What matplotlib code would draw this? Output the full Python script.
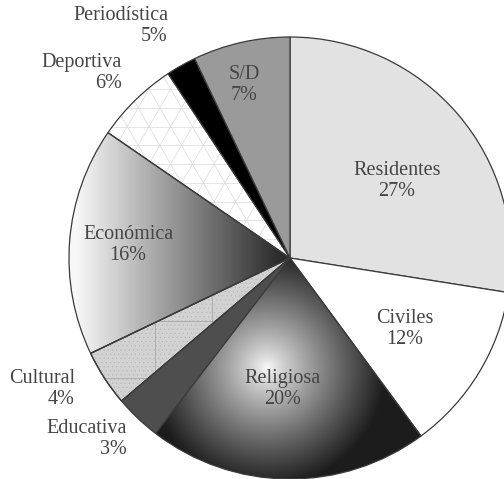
import numpy as np
import matplotlib
matplotlib.use("Agg")
import matplotlib.pyplot as plt
from matplotlib.collections import LineCollection
from matplotlib.patches import Wedge

# slice sizes as drawn in the picture (the printed labels are below)
categorias = ["Residentes", "Civiles", "Religiosa", "Educativa", "Cultural",
              "Económica", "Deportiva", "Periodística", "S/D"]
valores = [27.5, 12.4, 20.5, 3.4, 4.1, 16.7, 6.1, 2.2, 7.1]
etiquetas = ["27%", "12%", "20%", "3%", "4%", "16%", "6%", "5%", "7%"]
colores = ["#e2e2e2", "#ffffff", "none", "#4e4e4e", "#d2d2d2",
           "none", "none", "#000000", "#9a9a9a"]

R_PX = 221.0
CX, CY = 290.0, 258.0
W, H = 504, 479

def px(x, y):
    # pixel position in the picture -> data coords (centre 0,0, radius 1)
    return (x - CX) / R_PX, (CY - y) / R_PX

fig = plt.figure(figsize=(5.04, 4.79), dpi=100)
ax = fig.add_axes([0, 0, 1, 1])

wedges, _ = ax.pie(valores, colors=colores, startangle=90, counterclock=False,
                   radius=1.0, center=(0, 0),
                   wedgeprops=dict(edgecolor="#3a3a3a", linewidth=0.9))
for w in wedges:
    w.set_zorder(3)

# Religiosa: radial gradient
rel = wedges[2]
gx, gy = np.meshgrid(np.linspace(-1, 1, 400), np.linspace(-1, 1, 400))
cx, cy = px(267, 368)
d = np.hypot(gx - cx, gy - cy)
g = 0.98 - 0.87 * np.clip(d / 0.54, 0, 1) ** 0.85
img = ax.imshow(g, cmap="gray", vmin=0, vmax=1, extent=(-1, 1, -1, 1),
                origin="lower", zorder=1, interpolation="bilinear")
img.set_clip_path(rel)

# Económica: horizontal gradient, light on the outside, dark near the centre
eco = wedges[5]
t = np.clip((gx + 0.97) / 0.92, 0, 1)
g2 = 0.97 - 0.8 * t
img2 = ax.imshow(g2, cmap="gray", vmin=0, vmax=1, extent=(-1, 1, -1, 1),
                 origin="lower", zorder=1, interpolation="bilinear")
img2.set_clip_path(eco)

# Deportiva: triangular lattice on white
dep = wedges[6]
seg = []
step = 0.085
for ang in (0, 60, 120):
    a = np.radians(ang)
    u = np.array([np.cos(a), np.sin(a)])
    n = np.array([-u[1], u[0]])
    for k in np.arange(-15, 16):
        p = n * k * step
        seg.append([p - 2 * u, p + 2 * u])
lc = LineCollection(seg, colors="#dadada", linewidths=0.5, zorder=2)
ax.add_collection(lc)
lc.set_clip_path(dep)

# Cultural: fine dots plus a coarse grid
cul = wedges[4]
plt.rcParams["hatch.linewidth"] = 0.3
dots = Wedge((0, 0), 1.0, cul.theta1, cul.theta2, facecolor="none",
             edgecolor="#b2b2b2", linewidth=0, hatch="....", zorder=2)
ax.add_patch(dots)
seg2 = []
for xp in (155, 212):
    x, _ = px(xp, 0)
    seg2.append([(x, -1), (x, 0)])
for yp in (321, 378):
    _, y = px(0, yp)
    seg2.append([(-1, y), (0, y)])
lc2 = LineCollection(seg2, colors="#a0a0a0", linewidths=0.5, zorder=2)
ax.add_collection(lc2)
lc2.set_clip_path(cul)
cul.set_zorder(1.5)
cul.set_facecolor("#d2d2d2")
edge_cul = Wedge((0, 0), 1.0, cul.theta1, cul.theta2, facecolor="none",
                 edgecolor="#3a3a3a", linewidth=0.9, zorder=3)
ax.add_patch(edge_cul)

# labels
fuente = dict(family="Liberation Serif", fontsize=14.5, color="#444444",
              linespacing=1.15, zorder=5)
pos_in = {"Residentes": (397, 181), "Civiles": (405, 329), "Religiosa": (283, 389),
          "Económica": (128, 245), "S/D": (244, 85)}
pos_out = {"Periodística": (168, 26), "Deportiva": (122, 73),
           "Cultural": (75, 389), "Educativa": (127, 439)}
for cat, lab in zip(categorias, etiquetas):
    if cat in pos_in:
        x, y = px(*pos_in[cat])
        ax.text(x, y, f"{cat}\n{lab}", ha="center", va="center",
                multialignment="center", **fuente)
    else:
        x, y = px(*pos_out[cat])
        ax.text(x, y, f"{cat}\n{lab}", ha="right", va="center",
                multialignment="right", **fuente)

x0, y0 = px(0, H)
x1, y1 = px(W, 0)
ax.set_xlim(x0, x1)
ax.set_ylim(y0, y1)
ax.set_aspect("equal")
ax.axis("off")

fig.savefig("out.png", dpi=100)
